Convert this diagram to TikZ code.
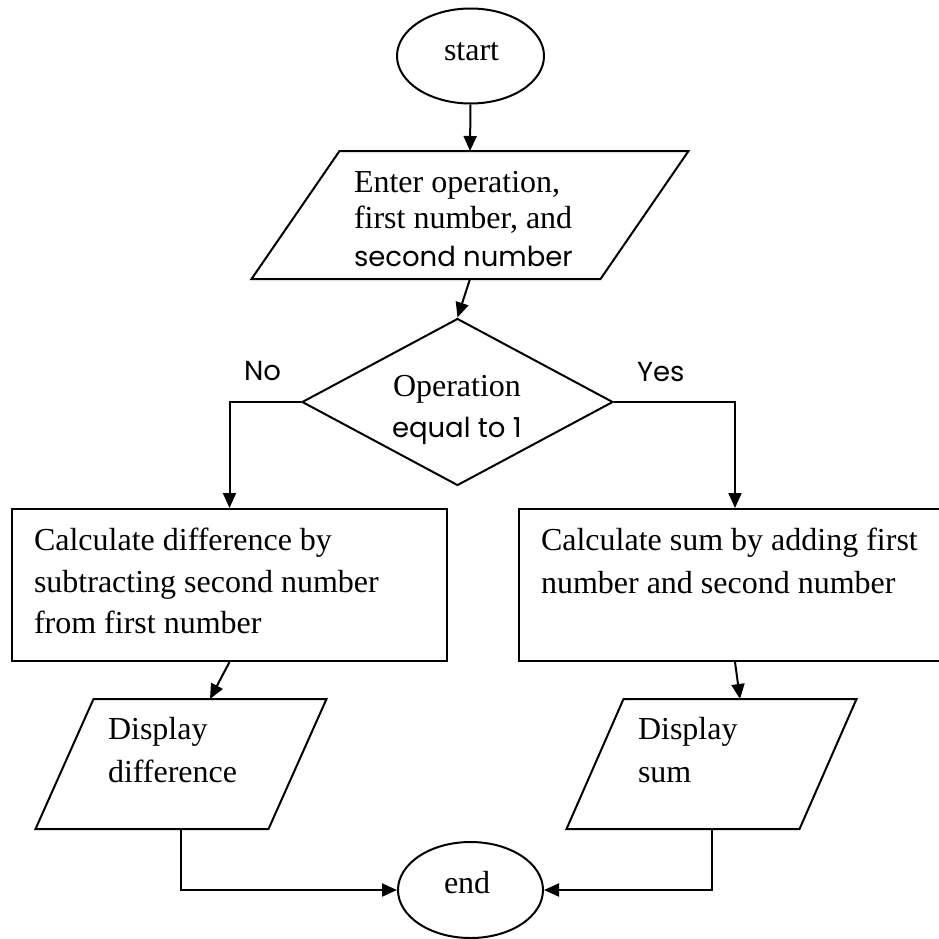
\documentclass[tikz,border=0pt]{standalone}
\usepackage{fontspec}
\setmainfont{Liberation Serif}
\newfontfamily\gothic{Poppins}
\usetikzlibrary{shapes.geometric,arrows.meta}
\begin{document}
\begin{tikzpicture}[x=1pt,y=-1pt,
  line width=2pt,
  conn/.style={-{Triangle[length=15pt,width=13pt]}},
  txt/.style={anchor=base west, inner sep=0pt, font=\fontsize{32}{38}\selectfont},
  stxt/.style={anchor=base west, inner sep=0pt, font=\gothic\fontsize{27.5}{32}\selectfont},
  frame/.style={inner sep=0pt, minimum width=#1},
  procbox/.style={draw, rectangle, inner sep=0pt, minimum width=#1, minimum height=152pt}
]
\useasboundingbox (0,0) rectangle (939,938);

% terminals
\node[draw, ellipse, inner sep=0pt, minimum width=147pt, minimum height=95pt] (start) at (470.5,56) {};
\node[txt] (starttxt) at (443,60) {start};
\node[draw, ellipse, inner sep=0pt, minimum width=145pt, minimum height=96pt] (end) at (470.5,890) {};
\node[txt] (endtxt) at (443,893) {end};

% input parallelogram
\node[frame=347pt, minimum height=126pt] (inp) at (470,215) {};
\draw ([xshift=-44pt]inp.south west) -- ([xshift=-44pt]inp.south east) -- ([xshift=44pt]inp.north east) -- ([xshift=44pt]inp.north west) -- cycle;
\node[txt] (inp1) at (353,192) {Enter operation,};
\node[txt] (inp2) at (353,228) {first number, and};
\node[stxt] (inp3) at (353,266) {second number};

% decision
\node[draw, diamond, inner sep=0pt, minimum width=311pt, minimum height=167pt] (dec) at (457.5,402) {};
\node[txt] (dec1) at (392,396) {Operation};
\node[stxt] (dec2) at (391,437) {equal to 1};
\node[stxt] (no) at (243,380) {No};
\node[stxt] (yes) at (636,381) {Yes};

% process boxes
\node[procbox=435pt] (calcL) at (229.5,585) {};
\node[txt] (calcL1) at (33,550) {Calculate difference by};
\node[txt] (calcL2) at (33,592) {subtracting second number};
\node[txt] (calcL3) at (33,633) {from first number};

\node[procbox=432pt] (calcR) at (735,585) {};
\node[txt] (calcR1) at (540,550) {Calculate sum by adding first};
\node[txt] (calcR2) at (540,593) {number and second number};

% output parallelograms
\node[frame=231pt, minimum height=128pt] (ioL) at (181,764) {};
\draw ([xshift=-29pt]ioL.south west) -- ([xshift=-29pt]ioL.south east) -- ([xshift=29pt]ioL.north east) -- ([xshift=29pt]ioL.north west) -- cycle;
\node[txt] (ioL1) at (107,739) {Display};
\node[txt] (ioL2) at (107,782) {difference};

\node[frame=231pt, minimum height=128pt] (ioR) at (711.5,764) {};
\draw ([xshift=-28.5pt]ioR.south west) -- ([xshift=-28.5pt]ioR.south east) -- ([xshift=28.5pt]ioR.north east) -- ([xshift=28.5pt]ioR.north west) -- cycle;
\node[txt] (ioR1) at (637,739) {Display};
\node[txt] (ioR2) at (637,782) {sum};

% connectors
\draw[conn] (start.south) -- (inp.north);
\draw[conn] (inp.south) -- (dec.north);
\draw[conn] (dec.west) -| (calcL.north);
\draw[conn] (dec.east) -| (calcR.north);
\draw[conn] (calcL.south) -- ([xshift=29pt]ioL.north);
\draw[conn] (calcR.south) -- ([xshift=28.5pt]ioR.north);
\draw[conn] (ioL.south) |- (end.west);
\draw[conn] (ioR.south) |- (end.east);
\end{tikzpicture}
\end{document}
